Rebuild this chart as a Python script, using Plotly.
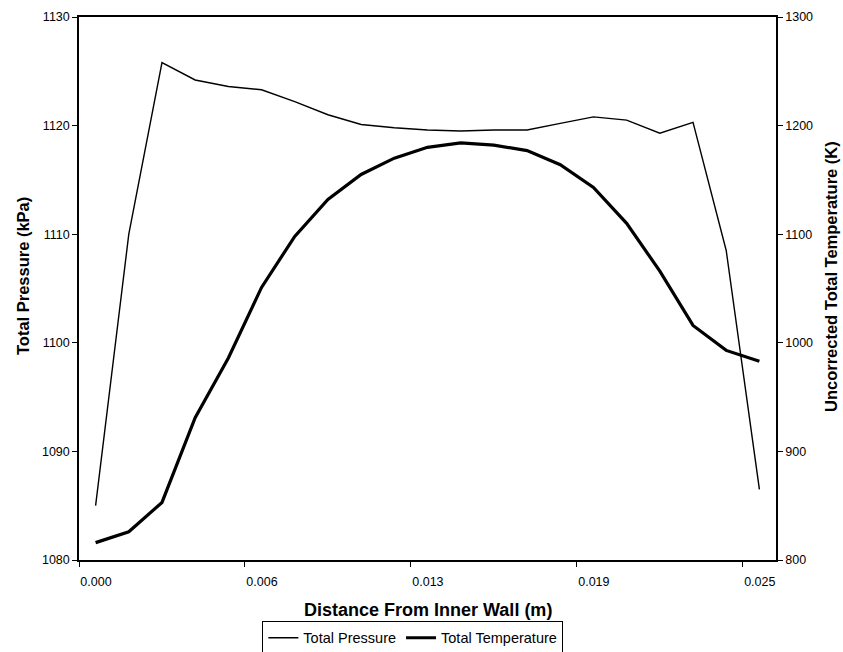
import plotly.graph_objects as go

# distance from inner wall (m)
distance_m = [0.000635, 0.001905, 0.003175, 0.004445, 0.005715, 0.006985, 0.008255,
              0.009525, 0.010795, 0.012065, 0.013335, 0.014605, 0.015875, 0.017145,
              0.018415, 0.019685, 0.020955, 0.022225, 0.023495, 0.024765, 0.026035]

total_pressure_kpa = [1085.0, 1110.0, 1125.8, 1124.2, 1123.6, 1123.3, 1122.2,
                      1121.0, 1120.1, 1119.8, 1119.6, 1119.5, 1119.6, 1119.6,
                      1120.2, 1120.8, 1120.5, 1119.3, 1120.3, 1108.5, 1086.5]

total_temperature_k = [816, 826, 853, 931, 986, 1051, 1098,
                       1132, 1155, 1170, 1180, 1184, 1182, 1177,
                       1164, 1143, 1110, 1066, 1016, 993, 983]

x_tick_vals = [0.0, 0.00635, 0.0127, 0.01905, 0.0254]
x_tick_text = ["0.000", "0.006", "0.013", "0.019", "0.025"]

FONT = "Liberation Sans, Arial, sans-serif"

fig = go.Figure()
fig.add_trace(go.Scatter(x=distance_m, y=total_pressure_kpa, mode="lines",
                         name="Total Pressure", line=dict(color="black", width=1.4)))
fig.add_trace(go.Scatter(x=distance_m, y=total_temperature_k, mode="lines",
                         name="Total Temperature", yaxis="y2",
                         line=dict(color="black", width=3.2)))

axis_common = dict(showline=True, linecolor="black", linewidth=1.5,
                   ticks="outside", ticklen=5, tickcolor="black", showgrid=False,
                   zeroline=False, tickfont=dict(size=12.5), automargin=False)

fig.update_layout(
    width=843, height=652,
    margin=dict(l=79, r=67, t=17, b=92, autoexpand=False),
    paper_bgcolor="white", plot_bgcolor="white",
    font=dict(family=FONT, color="black", size=12),
    showlegend=True,
    legend=dict(orientation="h", x=0.479, xanchor="center", y=-0.112, yanchor="top",
                bordercolor="black", borderwidth=1, font=dict(size=14.5),
                itemwidth=30, tracegroupgap=0),
    xaxis=dict(range=[0, 0.02667], tickvals=x_tick_vals, ticktext=x_tick_text,
               mirror=True, ticklabelshift=17, ticklabelstandoff=4, **axis_common),
    yaxis=dict(range=[1080, 1130], tickvals=[1080, 1090, 1100, 1110, 1120, 1130],
               **axis_common),
    yaxis2=dict(range=[800, 1300], tickvals=[800, 900, 1000, 1100, 1200, 1300],
                overlaying="y", side="right", **axis_common),
    annotations=[
        dict(text="<b>Distance From Inner Wall (m)</b>", xref="paper", yref="paper",
             x=0.5, y=-0.092, xanchor="center", yanchor="middle", showarrow=False,
             font=dict(size=18)),
        dict(text="<b>Total Pressure (kPa)</b>", xref="paper", yref="paper",
             x=-0.0803, y=0.523, xanchor="center", yanchor="middle", showarrow=False,
             textangle=-90, font=dict(size=16.5)),
        dict(text="<b>Uncorrected Total Temperature (K)</b>", xref="paper", yref="paper",
             x=1.0789, y=0.523, xanchor="center", yanchor="middle", showarrow=False,
             textangle=-90, font=dict(size=16.5)),
    ],
)

fig.write_html("out.html", config={"displayModeBar": False},
               post_script="document.body.style.margin='0';document.body.style.padding='0';")
